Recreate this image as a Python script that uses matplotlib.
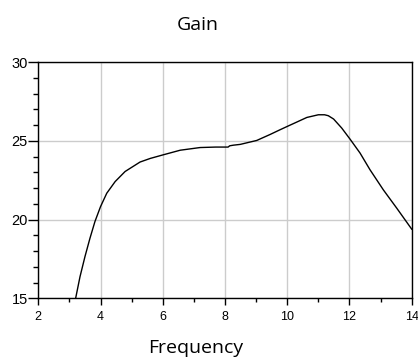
import matplotlib
matplotlib.use("Agg")
import matplotlib.pyplot as plt
from matplotlib.ticker import MultipleLocator

plt.rcParams['font.family'] = ['Liberation Sans', 'DejaVu Sans']

freq = [3.20, 3.34, 3.50, 3.66, 3.82, 4.0, 4.2, 4.47, 4.79, 5.27, 5.6, 6.0, 6.56,
        7.2, 7.7, 8.1, 8.15, 8.27, 8.49, 9.02, 9.45, 9.77, 10.0, 10.31, 10.63,
        11.0, 11.2, 11.32, 11.49, 11.75, 12.02, 12.34, 12.66, 13.09, 13.52, 14.0]
gain = [15.0, 16.37, 17.65, 18.81, 19.87, 20.82, 21.67, 22.41, 23.05, 23.65, 23.88, 24.1, 24.4,
        24.57, 24.6, 24.6, 24.68, 24.72, 24.77, 25.02, 25.4, 25.7, 25.91, 26.19, 26.48,
        26.65, 26.65, 26.59, 26.38, 25.81, 25.1, 24.22, 23.16, 21.88, 20.72, 19.39]

x_ticks = [2, 4, 6, 8, 10, 12, 14]
y_ticks = [15, 20, 25, 30]

fig = plt.figure(figsize=(4.18, 3.6), dpi=100)
ax = fig.add_axes([38.3/418, 1-298.3/360, (411.7-38.3)/418, (298.3-62)/360])

ax.plot(freq, gain, color="black", lw=1.0)
ax.set_xlim(2, 14)
ax.set_ylim(15, 30)
ax.set_xticks(x_ticks)
ax.set_yticks(y_ticks)
ax.xaxis.set_minor_locator(MultipleLocator(1))
ax.yaxis.set_minor_locator(MultipleLocator(1))
ax.grid(True, which="major", color="#cccccc", lw=1.0)
ax.set_axisbelow(True)
for s in ax.spines.values():
    s.set_color("black")
    s.set_linewidth(1.0)
ax.tick_params(axis="x", which="major", length=5, width=1, pad=4, labelsize=9)
ax.tick_params(axis="x", which="minor", length=3, width=1)
ax.tick_params(axis="y", which="major", length=7, width=1, pad=0.5, labelsize=10.5)
ax.tick_params(axis="y", which="minor", length=3.5, width=1)

fig.text(197.5/418, 1-30/360, "Gain", ha="center", va="baseline", family="Open Sans", fontsize=14)
fig.text(196/418, 1-353/360, "Frequency", ha="center", va="baseline", family="Open Sans", fontsize=14)

fig.savefig("out.png", dpi=100)
